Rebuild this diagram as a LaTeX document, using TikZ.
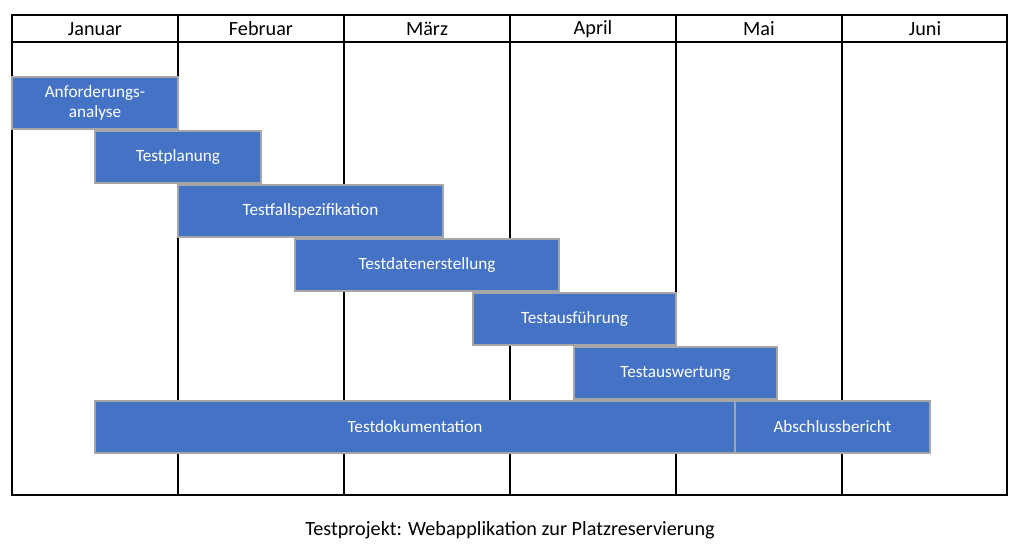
\documentclass[tikz,border=0pt]{standalone}
\usepackage{fontspec}
\setmainfont{Carlito}
\definecolor{taskblue}{HTML}{4472C4}
\begin{document}
\begin{tikzpicture}[x=0.02cm,y=-0.02cm,
    month/.style={font=\fontsize{11.5pt}{13pt}\selectfont},
    task/.style={draw=gray!70,line width=0.8pt,fill=taskblue,text=white,
        font=\fontsize{9.8pt}{11pt}\selectfont,align=center,
        minimum height=52*0.02cm,inner sep=0pt},
    ]
    \useasboundingbox (0,0) rectangle (1028,555);
    % Calendar grid
    \draw[line width=0.8pt] (12,15) rectangle (1007,495);
    \draw[line width=0.8pt] (12,42) -- (1007,42);
    \foreach \x in {178,344,510,676,842}
        \draw[line width=0.8pt] (\x,15) -- (\x,495);
    % Month names
    \foreach \m [count=\i from 0] in {Januar,Februar,März,April,Mai,Juni}
        \node[month] (m\i) at (95+\i*166,29) {\m};
    % Tasks
    \foreach \l/\r/\y/\t/\n in {
        12/178/103/{Anforderungs-\\analyse}/anf,
        95/261/157/Testplanung/plan,
        178/443/211/Testfallspezifikation/spez,
        295/559/265/Testdatenerstellung/daten,
        473/676/319/Testausführung/ausf,
        574/777/373/Testauswertung/ausw,
        95/735/427/Testdokumentation/doku,
        735/930/427/Abschlussbericht/ber}
        \node[task,minimum width={(\r-\l)*0.02cm}] (\n) at ({(\l+\r)/2},\y) {\t};
    % Caption
    \node[month] (titel) at (510,530) {Testprojekt: Webapplikation zur Platzreservierung};
\end{tikzpicture}
\end{document}
